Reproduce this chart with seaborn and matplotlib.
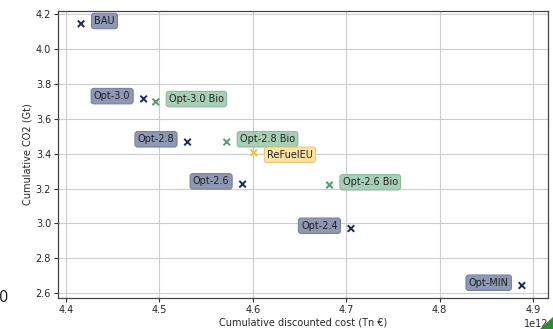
import matplotlib
matplotlib.use("Agg")
import matplotlib.pyplot as plt
from matplotlib.patches import Polygon
import seaborn as sns
import pandas as pd

# Scenario results: cumulative discounted cost (EUR) vs cumulative CO2 (Gt)
scenarios = ["BAU", "Opt-3.0", "Opt-3.0 Bio", "Opt-2.8", "Opt-2.8 Bio",
             "ReFuelEU", "Opt-2.6", "Opt-2.6 Bio", "Opt-2.4", "Opt-MIN"]
cost = [4.416e12, 4.483e12, 4.496e12, 4.530e12, 4.572e12,
        4.601e12, 4.589e12, 4.682e12, 4.705e12, 4.888e12]
co2 = [4.143, 3.713, 3.696, 3.466, 3.466,
       3.405, 3.225, 3.220, 2.971, 2.645]
group = ["opt", "opt", "bio", "opt", "bio",
         "policy", "opt", "bio", "opt", "opt"]
label_side = ["right", "left", "right", "left", "right",
              "right", "left", "right", "left", "left"]
label_dy = [2, 2, 2, 2, 2, -1.5, 2, 2, 2, 2]

palette = {"opt": "#1b2a5c", "bio": "#4f9d6e", "policy": "#f5bd3c"}
box_fc = {"opt": "#8e97b3", "bio": "#a7cfb5", "policy": "#fde2a0"}
box_ec = {"opt": "#77819f", "bio": "#8fb89d", "policy": "#ecc777"}

df = pd.DataFrame({"scenario": scenarios, "cost": cost, "co2": co2, "group": group})

sns.set_theme(style="whitegrid")
plt.rcParams["font.family"] = ["DejaVu Sans"]

FS = 7

fig = plt.figure(figsize=(5.53, 3.29), dpi=100)
ax = fig.add_axes([0.105, 0.094, 0.886, 0.873])

sns.scatterplot(data=df, x="cost", y="co2", hue="group", palette=palette,
                marker="x", s=22, linewidth=1.4, legend=False, ax=ax, zorder=3)

for name, x, y, g, side, dy in zip(scenarios, cost, co2, group, label_side, label_dy):
    dx = 9.5 if side == "right" else -9.5
    ax.annotate(name, (x, y), xytext=(dx, dy), textcoords="offset points",
                ha="left" if side == "right" else "right", va="center",
                fontsize=FS, color="#222222", zorder=4,
                bbox=dict(boxstyle="round,pad=0.28", fc=box_fc[g],
                          ec=box_ec[g], lw=0.8))

ax.set_xlim(4.3914e12, 4.916e12)
ax.set_ylim(2.573, 4.217)
ax.set_xticks([4.4e12, 4.5e12, 4.6e12, 4.7e12, 4.8e12, 4.9e12])
ax.set_yticks([2.6, 2.8, 3.0, 3.2, 3.4, 3.6, 3.8, 4.0, 4.2])
ax.set_xlabel("Cumulative discounted cost (Tn €)", fontsize=FS, labelpad=2)
ax.set_ylabel("Cumulative CO2 (Gt)", fontsize=FS, labelpad=2)
ax.tick_params(axis="both", labelsize=FS, length=3, width=0.8, pad=2,
               bottom=True, left=True, color="#333333")
ax.xaxis.get_offset_text().set_fontsize(FS)
ax.grid(True, color="#cccccc", linewidth=0.8)
for sp in ax.spines.values():
    sp.set_color("#444444")
    sp.set_linewidth(0.9)

# Fragments of neighbouring panels at the figure edges
fig.text(-0.002, 1 - 298 / 329, "0", fontsize=10.5, color="#222222", ha="left", va="center")
fig.patches.append(Polygon([[540 / 553, 0.0], [1.0, 0.0], [1.0, 12 / 329]],
                           closed=True, transform=fig.transFigure,
                           facecolor="#2e8b2e", edgecolor="none"))

fig.savefig("out.png", dpi=100)
